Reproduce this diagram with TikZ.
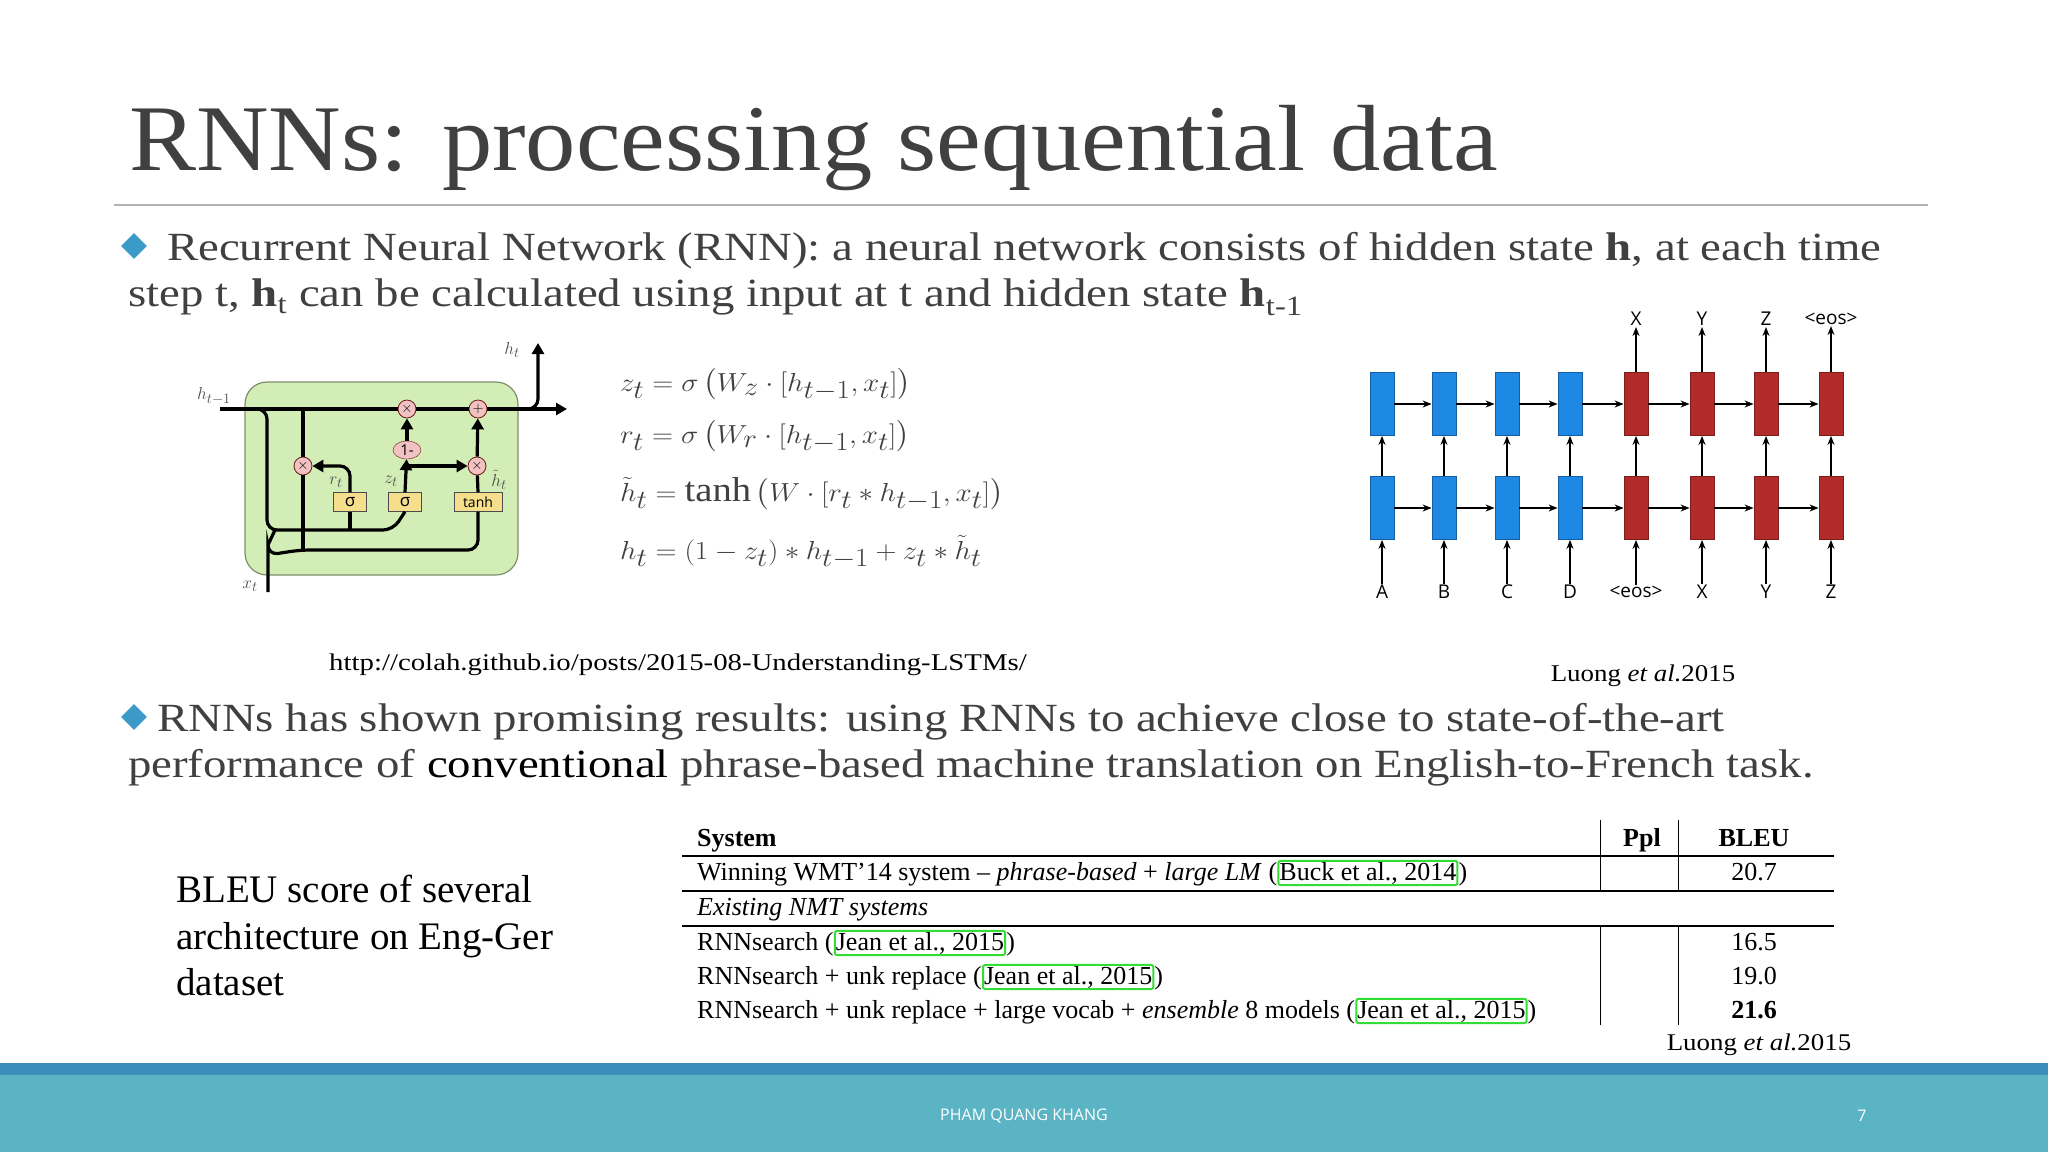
\documentclass[tikz,border=0pt]{standalone}
\usepackage{fontspec}
\usepackage{amsmath}
\setmainfont{Liberation Serif}
\setsansfont{Open Sans}
\newfontfamily\geo[FakeStretch=1.17]{Liberation Serif}
\newfontfamily\geot[FakeStretch=1.07]{Liberation Serif}
\newfontfamily\geou[FakeStretch=1.2]{Liberation Serif}
\newfontfamily\geol[FakeStretch=1.12]{Liberation Serif}
\usetikzlibrary{arrows.meta,calc,shapes.geometric}
\definecolor{bul}{HTML}{3C9AC8}
\definecolor{gtxt}{HTML}{404040}
\definecolor{encb}{HTML}{1E88E5}
\definecolor{decr}{HTML}{B22A2A}
\definecolor{grufill}{HTML}{D2EDB6}
\definecolor{gateyel}{HTML}{F5DE8C}
\definecolor{oppink}{HTML}{F2C2C2}
\definecolor{citeg}{HTML}{33DD33}
\definecolor{foot}{HTML}{5BB4C4}
\definecolor{footd}{HTML}{3C8DBC}
\tikzset{
  bodytxt/.style={anchor=base west,inner sep=0pt,text=gtxt,font=\geo\fontsize{40}{48}\selectfont},
  diam/.style={diamond,fill=bul,minimum size=26pt,inner sep=0pt},
  eqn/.style={anchor=west,inner sep=0pt,text=gtxt,font=\fontsize{33}{36}\selectfont},
  cell/.style={rectangle,minimum width=24pt,minimum height=63pt,inner sep=0pt},
  enc/.style={cell,fill=encb,draw=encb!70!black,line width=0.8pt},
  dec/.style={cell,fill=decr,draw=decr!70!black,line width=0.8pt},
  seqlab/.style={font=\sffamily\fontsize{19}{22}\selectfont,inner sep=1pt},
  seqarr/.style={-{Stealth[length=9pt,width=7pt]},line width=1.4pt},
  gw/.style={line width=3.2pt,rounded corners=10pt},
  garr/.style={gw,-{Triangle[length=11pt,width=12pt]}},
  op/.style={circle,draw=decr!60!black,fill=oppink,minimum size=18pt,inner sep=0pt,font=\sffamily\fontsize{15}{15}\selectfont,line width=0.8pt},
  gate/.style={rectangle,draw=black!70,fill=gateyel,minimum width=33pt,minimum height=19pt,inner sep=0pt,font=\sffamily\fontsize{17}{17}\selectfont},
  glab/.style={text=black!70,font=\fontsize{19}{19}\selectfont,inner sep=0pt},
  tab/.style={anchor=base west,inner sep=0pt,font=\fontsize{26}{30}\selectfont},
  cite/.style={draw=citeg,line width=2pt,rounded corners=2pt,inner sep=1pt,anchor=base west,font=\fontsize{26}{30}\selectfont},
}
\begin{document}
\begin{tikzpicture}[x=1pt,y=-1pt]
\useasboundingbox (0,0) rectangle (2048,1152);
% title
\node[anchor=base west,inner sep=0pt,text=gtxt,font=\geot\fontsize{94}{100}\selectfont] (title) at (129,170) {RNNs: processing sequential data};
\draw[gray!60,line width=1.2pt] (114,205) coordinate (r1) -- (1928,205) coordinate (r2);
% bullet 1
\node[diam] (d1) at (134,246) {};
\node[bodytxt] (b1a) at (167,260) {Recurrent Neural Network (RNN): a neural network consists of hidden state \textbf{h}, at each time};
\node[bodytxt] (b1b) at (128,306) {step t, \textbf{h}\textsubscript{t} can be calculated using input at t and hidden state \textbf{h}\textsubscript{t-1}};
% GRU
\draw[fill=grufill,draw=grufill!60!black,line width=1.2pt,rounded corners=22pt] (245,382) rectangle (518,575);
\node[op] (m1) at (407,409) {$\times$};
\node[op] (pl) at (478,409) {$+$};
\node[ellipse,draw=decr!60!black,fill=oppink,minimum width=28pt,minimum height=18pt,inner sep=0pt,font=\sffamily\fontsize{15}{15}\selectfont] (om) at (407,450) {1-};
\node[op] (ml) at (303,466) {$\times$};
\node[op] (mr) at (477,466) {$\times$};
\node[gate] (s1) at (350,502) {σ};
\node[gate] (s2) at (405,502) {σ};
\node[gate,minimum width=48pt,font=\sffamily\fontsize{14}{14}\selectfont] (th) at (478,502) {tanh};
\coordinate (hin) at (220,409);
\coordinate (hout) at (567,409);
\coordinate (xin) at (268,592);
\draw[gw] (hin) -- (m1);
\draw[gw] (m1) -- (pl);
\draw[garr] (pl) -- (hout);
\draw[garr] (530,409) -- (538,409) -- (538,343);
\draw[gw] (255,409) -- (267,409) -- (267,530) -- (393,530) -- (s2.south);
\draw[gw] (350,530) -- (s1.south);
\draw[gw] (303,409) -- (ml);
\draw[gw] (ml) -- (303,550);
\draw[gw] (xin) -- (268,545) -- (268,555) -- (300,550) -- (478,550) -- (th.south);
\draw[gw] (268,545) -- (275,530);
\draw[garr] (s1.north) -- (350,466) -- (ml);
\draw[garr] (s2.north) -- (om);
\draw[garr] (om) -- (m1);
\draw[garr] (405,466) -- (mr);
\draw[gw] (th.north) -- (mr);
\draw[garr] (mr) -- (pl);
\node[glab] (lh1) at (214,396) {$h_{t-1}$};
\node[glab] (lht) at (512,350) {$h_t$};
\node[glab] (lxt) at (250,586) {$x_t$};
\node[glab] (lrt) at (336,482) {$r_t$};
\node[glab] (lzt) at (391,481) {$z_t$};
\node[glab] (lhtt) at (499,480) {$\tilde h_t$};
% equations
\begin{scope}[every node/.append style={xscale=1.17,yscale=1.05}]
\node[eqn] (e1) at (620,385) {$z_t = \sigma\left(W_z\cdot[h_{t-1},x_t]\right)$};
\node[eqn] (e2) at (620,437) {$r_t = \sigma\left(W_r\cdot[h_{t-1},x_t]\right)$};
\node[eqn] (e3) at (620,494) {$\tilde h_t = \tanh\left(W\cdot[r_t * h_{t-1},x_t]\right)$};
\node[eqn] (e4) at (620,552) {$h_t = (1-z_t)*h_{t-1}+z_t*\tilde h_t$};
\end{scope}
% seq2seq
\foreach \i/\x/\st/\inl in {1/1382/enc/A,2/1444/enc/B,3/1507/enc/C,4/1570/enc/D,5/1636/dec/<eos>,6/1702/dec/X,7/1766/dec/Y,8/1831/dec/Z}{
  \node[\st] (t\i) at (\x,404) {};
  \node[\st] (u\i) at (\x,508) {};
  \node[seqlab] (in\i) at (\x,592) {\inl};
  \draw[seqarr] (in\i) -- (u\i);
  \draw[seqarr] (u\i) -- (t\i);
}
\foreach \i/\outl in {5/X,6/Y,7/Z,8/<eos>}{
  \node[seqlab] (out\i) at ($(t\i)+(0,-85)$) {\outl};
  \draw[seqarr] (t\i) -- (out\i);
}
\foreach \i/\j in {1/2,2/3,3/4,4/5,5/6,6/7,7/8}{
  \draw[seqarr] (t\i) -- (t\j);
  \draw[seqarr] (u\i) -- (u\j);
}
% captions
\node[inner sep=0pt,font=\geou\fontsize{24}{28}\selectfont] (url) at (678,665) {http://colah.github.io/posts/2015-08-Understanding-LSTMs/};
\node[inner sep=0pt,font=\geol\fontsize{24}{28}\selectfont] (lu1) at (1643,676) {Luong \textit{et al.}2015};
% bullet 2
\node[diam] (d2) at (134,717) {};
\node[bodytxt] (b2a) at (157,731) {RNNs has shown promising results: using RNNs to achieve close to state-of-the-art};
\node[bodytxt] (b2b) at (128,777) {performance of \textcolor{black}{conventional} phrase-based machine translation on English-to-French task.};
% left caption
\node[anchor=north west,align=left,inner sep=0pt,font=\fontsize{39}{46.5}\selectfont] (cap) at (176,875) {BLEU score of several\\architecture on Eng-Ger\\dataset};
% table
\draw[line width=1.2pt] (682,856) -- (1834,856);
\draw[line width=1.2pt] (682,891) -- (1834,891);
\draw[line width=1.2pt] (682,926) -- (1834,926);
\draw[line width=1pt] (1600,820) -- (1600,891) (1678,820) -- (1678,891);
\draw[line width=1pt] (1600,926) -- (1600,1025) (1678,926) -- (1678,1025);
\node[tab] (h1) at (697,846) {\textbf{System}};
\node[tab,anchor=base] (h2) at (1642,846) {\textbf{Ppl}};
\node[tab,anchor=base] (h3) at (1754,846) {\textbf{BLEU}};
\node[tab] (r1a) at (697,880) {Winning WMT'14 system -- \textit{phrase-based} + \textit{large LM} (};
\node[cite] (c1) at (r1a.base east) {Buck et al., 2014};
\node[tab] (r1c) at (c1.base east) {)};
\node[tab,anchor=base] (r1v) at (1754,880) {20.7};
\node[tab] (r2) at (697,915) {\textit{Existing NMT systems}};
\node[tab] (r3a) at (697,950) {RNNsearch (};
\node[cite] (c3) at (r3a.base east) {Jean et al., 2015};
\node[tab] (r3c) at (c3.base east) {)};
\node[tab,anchor=base] (r3v) at (1754,950) {16.5};
\node[tab] (r4a) at (697,984) {RNNsearch + unk replace (};
\node[cite] (c4) at (r4a.base east) {Jean et al., 2015};
\node[tab] (r4c) at (c4.base east) {)};
\node[tab,anchor=base] (r4v) at (1754,984) {19.0};
\node[tab] (r5a) at (697,1018) {RNNsearch + unk replace + large vocab + \textit{ensemble} 8 models (};
\node[cite] (c5) at (r5a.base east) {Jean et al., 2015};
\node[tab] (r5c) at (c5.base east) {)};
\node[tab,anchor=base] (r5v) at (1754,1018) {\textbf{21.6}};
\node[inner sep=0pt,font=\geol\fontsize{24}{28}\selectfont] (lu2) at (1759,1045) {Luong \textit{et al.}2015};
% footer
\fill[footd] (0,1063) rectangle (2048,1075);
\fill[foot] (0,1075) rectangle (2048,1152);
\node[text=white,font=\sffamily\fontsize{16}{18}\selectfont] (ft) at (1024,1116) {PHAM QUANG KHANG};
\node[text=white,font=\sffamily\fontsize{16}{18}\selectfont] (pg) at (1862,1116) {7};
\end{tikzpicture}
\end{document}
